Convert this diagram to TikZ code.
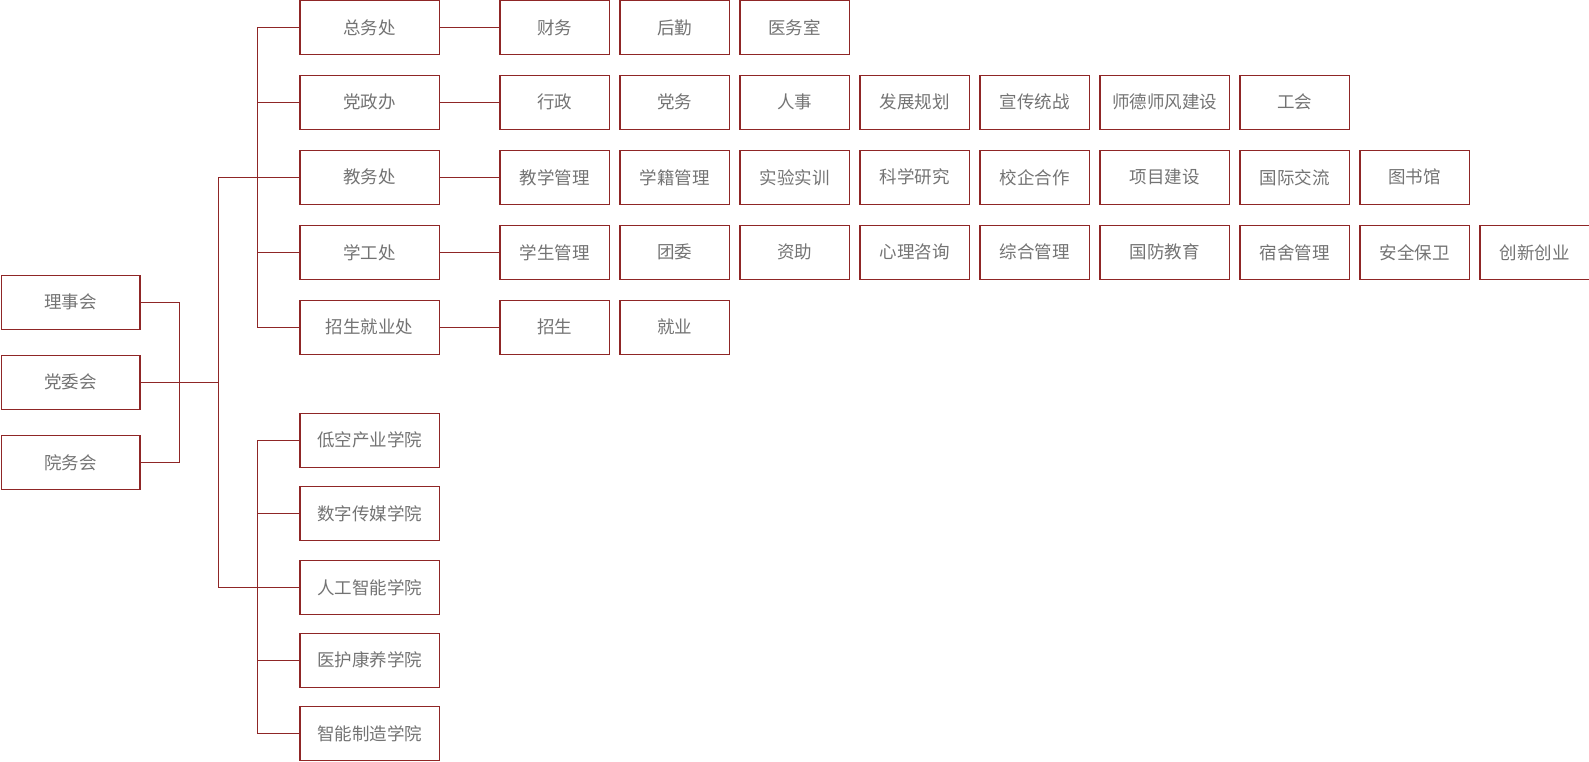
\documentclass[tikz,border=0pt]{standalone}
\usepackage{fontspec}
\newfontfamily\cjk{Noto Sans CJK SC}
\definecolor{bd}{RGB}{143,38,38}
\definecolor{tx}{RGB}{115,115,115}
\tikzset{
  orgbox/.style={draw=bd, line width=1.3pt, minimum height=54pt, inner sep=0pt, text=tx,
    font=\cjk\fontsize{17.5}{20}\selectfont, anchor=west},
  link/.style={draw=bd, line width=1.3pt}
}
\begin{document}
\begin{tikzpicture}[x=1pt,y=-1pt]
\useasboundingbox (0,0) rectangle (1589,761);
% left boxes
\node[orgbox, minimum width=138.7pt] (l1) at (0.65,302.3) {理事会};
\node[orgbox, minimum width=138.7pt] (l2) at (0.65,382.3) {党委会};
\node[orgbox, minimum width=138.7pt] (l3) at (0.65,462.3) {院务会};
% departments
\node[orgbox, minimum width=139.4pt] (d1) at (299.3,27.6) {总务处};
\node[orgbox, minimum width=139.4pt] (d2) at (299.3,102.3) {党政办};
\node[orgbox, minimum width=139.4pt] (d3) at (299.3,177.3) {教务处};
\node[orgbox, minimum width=139.4pt] (d4) at (299.3,252.3) {学工处};
\node[orgbox, minimum width=139.4pt] (d5) at (299.3,327.3) {招生就业处};
% colleges
\node[orgbox, minimum width=139.4pt] (c1) at (299.3,440.3) {低空产业学院};
\node[orgbox, minimum width=139.4pt] (c2) at (299.3,513.3) {数字传媒学院};
\node[orgbox, minimum width=139.4pt] (c3) at (299.3,587.3) {人工智能学院};
\node[orgbox, minimum width=139.4pt] (c4) at (299.3,660.3) {医护康养学院};
\node[orgbox, minimum width=139.4pt] (c5) at (299.3,733.3) {智能制造学院};
% sub units
\def\subrow#1#2#3{%
  \foreach \t [count=\i] in {#3} {
    \pgfmathsetmacro{\xl}{\i<6 ? 499.3+120*(\i-1) : (\i==6 ? 1099.3 : 1239.3+120*(\i-7))}
    \pgfmathsetmacro{\bxw}{\i==6 ? 129.4 : 109.4}
    \node[orgbox, minimum width=\bxw pt] (s#1-\i) at (\xl,#2) {\t};
  }}
\subrow{1}{27.6}{财务,后勤,医务室}
\subrow{2}{102.3}{行政,党务,人事,发展规划,宣传统战,师德师风建设,工会}
\subrow{3}{177.3}{教学管理,学籍管理,实验实训,科学研究,校企合作,项目建设,国际交流,图书馆}
\subrow{4}{252.3}{学生管理,团委,资助,心理咨询,综合管理,国防教育,宿舍管理,安全保卫,创新创业}
\subrow{5}{327.3}{招生,就业}
% connectors
\coordinate (bx) at (179.3,0);
\coordinate (mx) at (218.3,0);
\coordinate (ux) at (257.3,0);
\draw[link] (l1.east) -| (bx |- l3.east) -- (l3.east);
\draw[link] (l2.east) -- (mx |- l2.east);
\draw[link] (d3.west) -| (mx |- c3.west) -- (c3.west);
\draw[link] (d1.west) -| (ux |- d5.west) -- (d5.west);
\draw[link] (d2.west) -- (ux |- d2.west);
\draw[link] (d4.west) -- (ux |- d4.west);
\draw[link] (c1.west) -| (ux |- c5.west) -- (c5.west);
\draw[link] (c2.west) -- (ux |- c2.west);
\draw[link] (c4.west) -- (ux |- c4.west);
\foreach \r in {1,...,5} {
  \draw[link] (d\r.east) -- (s\r-1.west);
}
\end{tikzpicture}
\end{document}
